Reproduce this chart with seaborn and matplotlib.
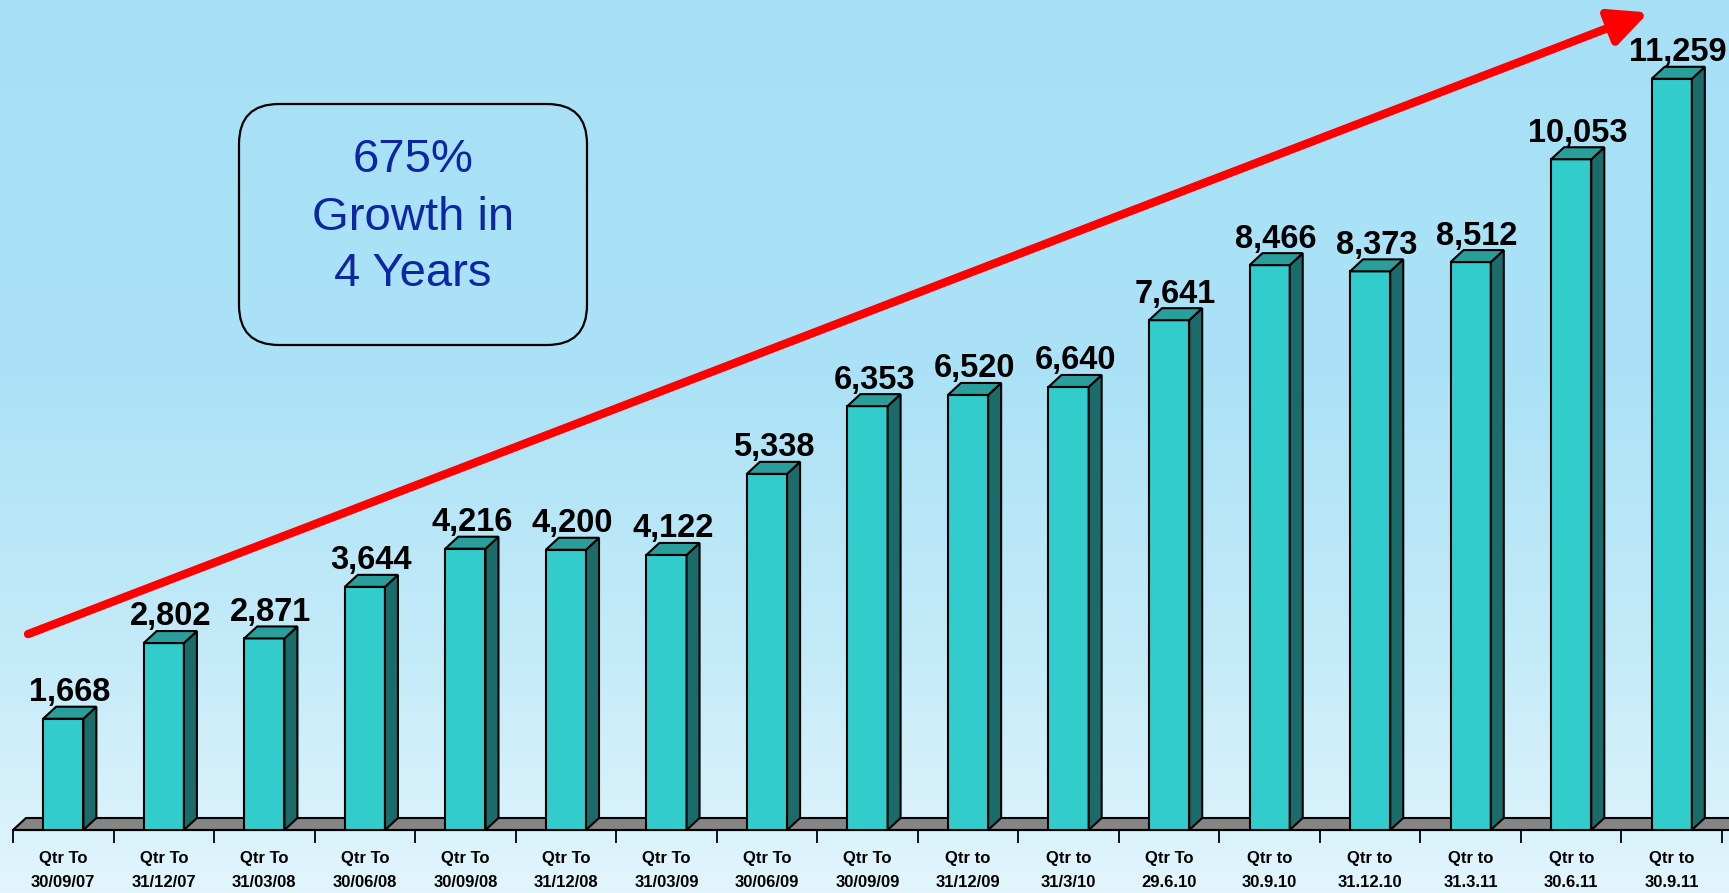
import numpy as np
import matplotlib
matplotlib.use("Agg")
import matplotlib.pyplot as plt
import seaborn as sns
from matplotlib.patches import Polygon, FancyBboxPatch, FancyArrowPatch
from matplotlib.colors import LinearSegmentedColormap

# ---------------- data ----------------
periods = ["Qtr To\n30/09/07", "Qtr To\n31/12/07", "Qtr To\n31/03/08", "Qtr To\n30/06/08",
           "Qtr To\n30/09/08", "Qtr To\n31/12/08", "Qtr To\n31/03/09", "Qtr To\n30/06/09",
           "Qtr To\n30/09/09", "Qtr to\n31/12/09", "Qtr to\n31/3/10", "Qtr To\n29.6.10",
           "Qtr to\n30.9.10", "Qtr to\n31.12.10", "Qtr to\n31.3.11", "Qtr to\n30.6.11",
           "Qtr to\n30.9.11"]
values = [1668, 2802, 2871, 3644, 4216, 4200, 4122, 5338, 6353, 6520, 6640, 7641,
          8466, 8373, 8512, 10053, 11259]
box_lines = ["675%", "Growth in", "4 Years"]

# ---------------- figure ----------------
sns.set_theme(style="white")
plt.rcParams["font.family"] = ["Liberation Sans", "DejaVu Sans"]

W, H, DPI = 1729, 893, 100
fig = plt.figure(figsize=(W / DPI, H / DPI), dpi=DPI)

# background gradient
bg = fig.add_axes([0, 0, 1, 1], zorder=-10)
cmap = LinearSegmentedColormap.from_list(
    "bg", [(0.0, "#A7E0F6"), (0.42, "#ABE2F6"), (0.75, "#C6EBF9"), (1.0, "#E2F5FC")])
grad = np.linspace(0, 1, 256).reshape(-1, 1)
bg.imshow(grad, aspect="auto", cmap=cmap, extent=[0, 1, 0, 1], origin="upper")
bg.set_axis_off()

# main axes
ax_left, ax_right = 13, 1722
ax_bottom_px = 830
ax = fig.add_axes([ax_left / W, (H - ax_bottom_px) / H, (ax_right - ax_left) / W, ax_bottom_px / H])
ax.patch.set_visible(False)

front = "#33CCCC"
side = "#1C6B6B"
top = "#2A9E9B"

sns.barplot(x=periods, y=values, width=0.4, color=front, saturation=1,
            edgecolor="black", linewidth=1.5, ax=ax, zorder=3)
ax.set_xlim(-0.5, len(periods) - 0.5)
ax.set_ylim(0, 12440)

# depth offset (pixels -> data)
DX_PX, DY_PX = 13, 12
inv = ax.transData.inverted()
o = ax.transData.transform((0, 0))
d = inv.transform(o + np.array([DX_PX, DY_PX]))
dx, dy = d[0] - inv.transform(o)[0], d[1] - inv.transform(o)[1]

bars = list(ax.patches)[:len(values)]

# floor
x0, x1 = ax.get_xlim()
floor = Polygon([(x0, 0), (x1 + dx, 0), (x1 + 2 * dx, dy), (x0 + dx, dy)],
                closed=True, facecolor="#858585", edgecolor="black", lw=1.5, zorder=1,
                clip_on=False)
ax.add_patch(floor)

# 3D faces + labels
for p, v in zip(bars, values):
    bx, bw, bh = p.get_x(), p.get_width(), p.get_height()
    sidep = Polygon([(bx + bw, 0), (bx + bw + dx, dy), (bx + bw + dx, bh + dy), (bx + bw, bh)],
                    closed=True, facecolor=side, edgecolor="black", lw=1.5, zorder=3)
    topp = Polygon([(bx, bh), (bx + bw, bh), (bx + bw + dx, bh + dy), (bx + dx, bh + dy)],
                   closed=True, facecolor=top, edgecolor="black", lw=1.5, zorder=3)
    ax.add_patch(sidep)
    ax.add_patch(topp)
    ax.annotate(f"{v:,}", xy=(bx + bw / 2 + dx / 2, bh + dy), xytext=(0, 4),
                textcoords="offset points", ha="center", va="baseline",
                fontsize=23.5, fontweight="bold", color="black", zorder=6)

# axes styling
for s in ["top", "right", "left"]:
    ax.spines[s].set_visible(False)
ax.spines["bottom"].set_color("black")
ax.spines["bottom"].set_linewidth(1.5)
ax.spines["bottom"].set_zorder(2)
ax.set_yticks([])
ax.set_xticks(range(len(periods)))
ax.set_xticklabels(periods, fontsize=12, fontweight="bold", linespacing=1.75)
ax.set_xticks(np.arange(-0.5, len(periods), 1.0), minor=True)
ax.tick_params(axis="x", which="major", bottom=True, length=0, pad=15, colors="black")
ax.tick_params(axis="x", which="minor", bottom=True, length=9, width=1.3, color="black",
               direction="out")
ax.set_xlabel("")
ax.set_ylabel("")
ax.grid(False)

# red arrow
arrow = FancyArrowPatch((0.0088, 0.236), (0.957, 0.985), transform=ax.transAxes,
                        arrowstyle="-|>,head_length=1.15,head_width=0.55", mutation_scale=20,
                        color="#FF0000", lw=6, shrinkA=0, shrinkB=0, zorder=5, clip_on=False)
ax.add_patch(arrow)

# rounded box with text
bx0, by0, bx1, by1 = 239, 104, 587, 345
box = FancyBboxPatch((bx0 / W, (H - by1) / H), (bx1 - bx0) / W, (by1 - by0) / H,
                     boxstyle=f"round,pad=0,rounding_size={40 / W}",
                     mutation_aspect=W / H, transform=fig.transFigure,
                     facecolor="none", edgecolor="black", lw=1.6, zorder=7)
fig.patches.append(box)
cx = (bx0 + bx1) / 2 / W
for line, ypx in zip(box_lines, [160, 218, 274]):
    fig.text(cx, (H - ypx) / H, line, ha="center", va="center", fontsize=34,
             color="#0F26A3", zorder=8)

fig.savefig("out.png", dpi=DPI)
